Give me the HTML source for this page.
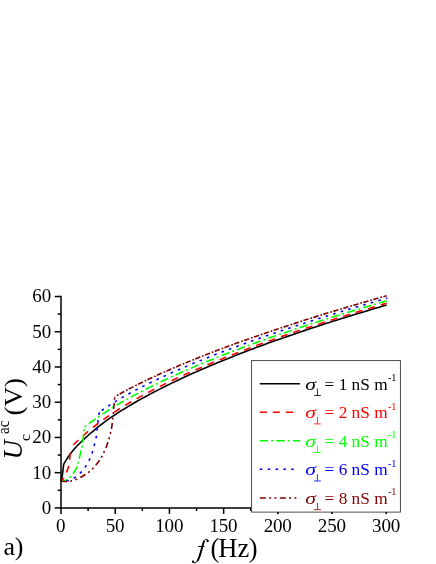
<!DOCTYPE html>
<html><head><meta charset="utf-8"><title>chart</title>
<style>html,body{margin:0;padding:0;background:#fff;}body{width:436px;height:564px;position:relative;overflow:hidden;font-family:"Liberation Serif",serif;}</style>
</head><body>
<svg width="436" height="564" viewBox="0 0 436 564" style="display:block;position:absolute;left:0;top:0;will-change:transform">
<rect x="0" y="0" width="436" height="564" fill="#ffffff"/>
<path d="M61.00 481.20 C61.20 480.33 61.87 477.87 62.20 476.00 C62.53 474.13 62.75 471.95 63.00 470.00 C63.25 468.05 63.58 465.25 63.70 464.30 L63.70 464.30 C64.42 463.10 66.59 459.27 68.04 457.10 C69.49 454.93 70.94 453.07 72.38 451.27 C73.83 449.48 75.28 447.89 76.73 446.33 C78.17 444.78 79.62 443.36 81.07 441.95 C82.52 440.54 83.96 439.21 85.41 437.89 C86.86 436.56 88.30 435.28 89.75 434.01 C91.20 432.74 92.65 431.49 94.09 430.27 C95.54 429.05 96.99 427.85 98.44 426.69 C99.88 425.53 101.33 424.41 102.78 423.32 C104.23 422.23 105.67 421.17 107.12 420.14 C108.57 419.11 110.01 418.11 111.46 417.12 C112.91 416.14 114.36 415.17 115.80 414.22 C117.25 413.27 118.70 412.34 120.15 411.42 C121.59 410.51 123.04 409.61 124.49 408.72 C125.94 407.83 127.38 406.95 128.83 406.09 C130.28 405.22 131.72 404.37 133.17 403.53 C134.62 402.69 136.07 401.86 137.51 401.03 C138.96 400.21 140.41 399.40 141.86 398.60 C143.30 397.79 144.75 397.00 146.20 396.22 C147.65 395.43 149.09 394.66 150.54 393.89 C151.99 393.12 153.43 392.36 154.88 391.60 C156.33 390.85 157.78 390.11 159.22 389.37 C160.67 388.63 162.12 387.90 163.57 387.17 C165.01 386.45 166.46 385.73 167.91 385.02 C169.36 384.31 170.80 383.60 172.25 382.90 C173.70 382.20 175.14 381.51 176.59 380.82 C178.04 380.14 179.49 379.45 180.93 378.78 C182.38 378.10 183.83 377.43 185.28 376.77 C186.72 376.10 188.17 375.44 189.62 374.78 C191.07 374.13 192.51 373.48 193.96 372.83 C195.41 372.19 196.85 371.55 198.30 370.91 C199.75 370.28 201.20 369.64 202.64 369.02 C204.09 368.39 205.54 367.77 206.99 367.15 C208.43 366.53 209.88 365.92 211.33 365.31 C212.78 364.70 214.22 364.09 215.67 363.49 C217.12 362.89 218.56 362.29 220.01 361.69 C221.46 361.10 222.91 360.51 224.35 359.92 C225.80 359.33 227.25 358.75 228.70 358.17 C230.14 357.59 231.59 357.02 233.04 356.44 C234.49 355.87 235.93 355.30 237.38 354.74 C238.83 354.17 240.27 353.61 241.72 353.05 C243.17 352.49 244.62 351.93 246.06 351.38 C247.51 350.83 248.96 350.28 250.41 349.73 C251.85 349.18 253.30 348.64 254.75 348.10 C256.20 347.56 257.64 347.02 259.09 346.48 C260.54 345.95 261.98 345.42 263.43 344.89 C264.88 344.36 266.33 343.83 267.77 343.30 C269.22 342.78 270.67 342.26 272.12 341.74 C273.56 341.22 275.01 340.70 276.46 340.19 C277.91 339.68 279.35 339.17 280.80 338.66 C282.25 338.15 283.69 337.64 285.14 337.14 C286.59 336.63 288.04 336.13 289.48 335.63 C290.93 335.13 292.38 334.64 293.83 334.14 C295.27 333.65 296.72 333.15 298.17 332.66 C299.62 332.17 301.06 331.69 302.51 331.20 C303.96 330.71 305.40 330.23 306.85 329.75 C308.30 329.27 309.75 328.79 311.19 328.31 C312.64 327.83 314.09 327.36 315.54 326.89 C316.98 326.41 318.43 325.94 319.88 325.47 C321.33 325.00 322.77 324.53 324.22 324.07 C325.67 323.60 327.11 323.14 328.56 322.68 C330.01 322.22 331.46 321.76 332.90 321.30 C334.35 320.84 335.80 320.38 337.25 319.93 C338.69 319.47 340.14 319.02 341.59 318.57 C343.04 318.12 344.48 317.67 345.93 317.22 C347.38 316.77 348.82 316.33 350.27 315.88 C351.72 315.44 353.17 315.00 354.61 314.55 C356.06 314.11 357.51 313.67 358.96 313.24 C360.40 312.80 361.85 312.36 363.30 311.93 C364.75 311.49 366.19 311.06 367.64 310.63 C369.09 310.19 370.53 309.76 371.98 309.34 C373.43 308.91 374.88 308.48 376.32 308.05 C377.77 307.63 379.22 307.20 380.67 306.78 C382.11 306.36 384.01 305.80 385.01 305.51 C386.01 305.22 386.38 305.12 386.65 305.04" fill="none" stroke="#000000" stroke-width="1.60" stroke-linejoin="miter"/>
<path d="M61.00 481.20 C61.53 480.60 63.28 479.05 64.20 477.60 C65.12 476.15 65.77 474.38 66.50 472.50 C67.23 470.62 68.10 468.43 68.60 466.30 C69.10 464.17 69.23 461.85 69.50 459.70 C69.77 457.55 69.95 455.42 70.20 453.40 C70.45 451.38 70.87 448.57 71.00 447.61" fill="none" stroke="#ff0000" stroke-width="1.60" stroke-dasharray="7 6.1" stroke-dashoffset="2.70"/>
<path d="M71.00 447.61 C71.72 446.85 73.89 444.51 75.34 443.05 C76.79 441.59 78.24 440.19 79.68 438.83 C81.13 437.47 82.58 436.16 84.03 434.88 C85.47 433.60 86.92 432.36 88.37 431.15 C89.82 429.94 91.26 428.77 92.71 427.62 C94.16 426.47 95.60 425.36 97.05 424.26 C98.50 423.16 99.95 422.09 101.39 421.04 C102.84 419.99 104.29 418.96 105.74 417.95 C107.18 416.95 108.63 415.96 110.08 414.98 C111.53 414.01 112.97 413.06 114.42 412.11 C115.87 411.17 117.31 410.25 118.76 409.34 C120.21 408.43 121.66 407.53 123.10 406.65 C124.55 405.77 126.00 404.90 127.45 404.04 C128.89 403.18 130.34 402.33 131.79 401.50 C133.24 400.66 134.68 399.84 136.13 399.02 C137.58 398.21 139.02 397.40 140.47 396.61 C141.92 395.81 143.37 395.03 144.81 394.25 C146.26 393.47 147.71 392.70 149.16 391.94 C150.60 391.18 152.05 390.43 153.50 389.69 C154.95 388.94 156.39 388.21 157.84 387.48 C159.29 386.75 160.73 386.02 162.18 385.31 C163.63 384.59 165.08 383.89 166.52 383.18 C167.97 382.48 169.42 381.78 170.87 381.09 C172.31 380.40 173.76 379.72 175.21 379.04 C176.66 378.36 178.10 377.69 179.55 377.02 C181.00 376.36 182.44 375.70 183.89 375.04 C185.34 374.38 186.79 373.73 188.23 373.09 C189.68 372.44 191.13 371.80 192.58 371.16 C194.02 370.52 195.47 369.89 196.92 369.27 C198.37 368.64 199.81 368.01 201.26 367.40 C202.71 366.78 204.15 366.16 205.60 365.55 C207.05 364.94 208.50 364.34 209.94 363.73 C211.39 363.13 212.84 362.53 214.29 361.94 C215.73 361.34 217.18 360.75 218.63 360.17 C220.08 359.58 221.52 359.00 222.97 358.42 C224.42 357.84 225.86 357.26 227.31 356.69 C228.76 356.11 230.21 355.54 231.65 354.98 C233.10 354.41 234.55 353.85 236.00 353.29 C237.44 352.73 238.89 352.17 240.34 351.62 C241.79 351.06 243.23 350.51 244.68 349.96 C246.13 349.41 247.57 348.87 249.02 348.33 C250.47 347.78 251.92 347.25 253.36 346.71 C254.81 346.17 256.26 345.64 257.71 345.11 C259.15 344.58 260.60 344.05 262.05 343.52 C263.50 342.99 264.94 342.47 266.39 341.95 C267.84 341.43 269.28 340.91 270.73 340.39 C272.18 339.88 273.63 339.37 275.07 338.85 C276.52 338.34 277.97 337.83 279.42 337.33 C280.86 336.82 282.31 336.32 283.76 335.81 C285.21 335.31 286.65 334.81 288.10 334.31 C289.55 333.82 290.99 333.32 292.44 332.83 C293.89 332.34 295.34 331.84 296.78 331.35 C298.23 330.87 299.68 330.38 301.13 329.89 C302.57 329.41 304.02 328.93 305.47 328.44 C306.92 327.96 308.36 327.48 309.81 327.01 C311.26 326.53 312.70 326.05 314.15 325.58 C315.60 325.11 317.05 324.63 318.49 324.16 C319.94 323.70 321.39 323.23 322.84 322.76 C324.28 322.29 325.73 321.83 327.18 321.37 C328.63 320.90 330.07 320.44 331.52 319.98 C332.97 319.53 334.41 319.07 335.86 318.61 C337.31 318.16 338.76 317.70 340.20 317.25 C341.65 316.80 343.10 316.35 344.55 315.90 C345.99 315.45 347.44 315.00 348.89 314.55 C350.34 314.11 351.78 313.66 353.23 313.22 C354.68 312.77 356.12 312.33 357.57 311.89 C359.02 311.45 360.47 311.01 361.91 310.58 C363.36 310.14 364.81 309.70 366.26 309.27 C367.70 308.83 369.15 308.40 370.60 307.97 C372.05 307.54 373.49 307.11 374.94 306.68 C376.39 306.25 377.83 305.82 379.28 305.40 C380.73 304.97 382.40 304.48 383.62 304.12 C384.85 303.76 386.15 303.39 386.65 303.24" fill="none" stroke="#ff0000" stroke-width="1.60" stroke-dasharray="7 6.1" stroke-dashoffset="9.52"/>
<path d="M61.00 481.20 C61.53 481.13 63.13 481.10 64.20 480.80 C65.27 480.50 66.48 479.98 67.40 479.40 C68.32 478.82 68.78 478.22 69.70 477.30 C70.62 476.38 71.68 475.62 72.90 473.90 C74.12 472.18 76.15 468.83 77.00 467.00 C77.85 465.17 77.62 464.35 78.00 462.90 C78.38 461.45 78.80 460.28 79.30 458.30 C79.80 456.32 80.55 452.97 81.00 451.00 C81.45 449.03 81.70 448.05 82.00 446.50 C82.30 444.95 82.53 443.73 82.80 441.70 C83.07 439.67 83.35 436.70 83.60 434.30 C83.85 431.90 84.18 428.44 84.30 427.27" fill="none" stroke="#00ff00" stroke-width="1.60" stroke-dasharray="8.3 3 2 3.2" stroke-dashoffset="1.80"/>
<path d="M84.30 427.27 C85.02 426.71 87.19 425.01 88.64 423.92 C90.09 422.83 91.54 421.76 92.98 420.71 C94.43 419.67 95.88 418.65 97.33 417.64 C98.77 416.64 100.22 415.66 101.67 414.69 C103.12 413.72 104.56 412.77 106.01 411.84 C107.46 410.90 108.90 409.99 110.35 409.08 C111.80 408.18 113.25 407.29 114.69 406.41 C116.14 405.53 117.59 404.67 119.04 403.82 C120.48 402.96 121.93 402.12 123.38 401.29 C124.83 400.46 126.27 399.64 127.72 398.83 C129.17 398.03 130.61 397.23 132.06 396.44 C133.51 395.65 134.96 394.87 136.40 394.09 C137.85 393.32 139.30 392.56 140.75 391.80 C142.19 391.05 143.64 390.30 145.09 389.56 C146.54 388.82 147.98 388.09 149.43 387.36 C150.88 386.64 152.32 385.92 153.77 385.21 C155.22 384.50 156.67 383.79 158.11 383.09 C159.56 382.40 161.01 381.70 162.46 381.02 C163.90 380.33 165.35 379.65 166.80 378.97 C168.25 378.30 169.69 377.63 171.14 376.97 C172.59 376.30 174.03 375.64 175.48 374.99 C176.93 374.34 178.38 373.69 179.82 373.04 C181.27 372.40 182.72 371.76 184.17 371.13 C185.61 370.49 187.06 369.86 188.51 369.24 C189.96 368.61 191.40 367.99 192.85 367.38 C194.30 366.76 195.74 366.15 197.19 365.54 C198.64 364.93 200.09 364.32 201.53 363.72 C202.98 363.12 204.43 362.53 205.88 361.93 C207.32 361.34 208.77 360.75 210.22 360.17 C211.67 359.58 213.11 359.00 214.56 358.42 C216.01 357.84 217.45 357.27 218.90 356.69 C220.35 356.12 221.80 355.55 223.24 354.99 C224.69 354.42 226.14 353.86 227.59 353.30 C229.03 352.74 230.48 352.19 231.93 351.63 C233.38 351.08 234.82 350.53 236.27 349.98 C237.72 349.44 239.16 348.89 240.61 348.35 C242.06 347.81 243.51 347.27 244.95 346.73 C246.40 346.20 247.85 345.66 249.30 345.13 C250.74 344.60 252.19 344.07 253.64 343.55 C255.09 343.02 256.53 342.50 257.98 341.98 C259.43 341.46 260.87 340.94 262.32 340.43 C263.77 339.91 265.22 339.40 266.66 338.89 C268.11 338.38 269.56 337.87 271.01 337.36 C272.45 336.86 273.90 336.35 275.35 335.85 C276.80 335.35 278.24 334.85 279.69 334.35 C281.14 333.85 282.58 333.36 284.03 332.87 C285.48 332.37 286.93 331.88 288.37 331.39 C289.82 330.90 291.27 330.42 292.72 329.93 C294.16 329.45 295.61 328.96 297.06 328.48 C298.51 328.00 299.95 327.52 301.40 327.05 C302.85 326.57 304.29 326.09 305.74 325.62 C307.19 325.15 308.64 324.67 310.08 324.21 C311.53 323.74 312.98 323.27 314.43 322.80 C315.87 322.34 317.32 321.87 318.77 321.41 C320.22 320.95 321.66 320.48 323.11 320.03 C324.56 319.57 326.00 319.11 327.45 318.65 C328.90 318.20 330.35 317.74 331.79 317.29 C333.24 316.84 334.69 316.39 336.14 315.94 C337.58 315.49 339.03 315.04 340.48 314.59 C341.93 314.15 343.37 313.70 344.82 313.26 C346.27 312.82 347.71 312.37 349.16 311.93 C350.61 311.49 352.06 311.06 353.50 310.62 C354.95 310.18 356.40 309.75 357.85 309.31 C359.29 308.88 360.74 308.44 362.19 308.01 C363.64 307.58 365.08 307.15 366.53 306.72 C367.98 306.29 369.42 305.87 370.87 305.44 C372.32 305.01 373.77 304.59 375.21 304.17 C376.66 303.74 378.11 303.32 379.56 302.90 C381.00 302.48 382.72 301.98 383.90 301.64 C385.08 301.30 386.19 300.98 386.65 300.85" fill="none" stroke="#00ff00" stroke-width="1.60" stroke-dasharray="8.3 3.05 2 3.26" stroke-dashoffset="10.80"/>
<path d="M61.00 481.20 C62.30 481.10 66.52 481.20 68.80 480.60 C71.08 480.00 72.75 478.90 74.70 477.60 C76.65 476.30 78.77 474.52 80.50 472.80 C82.23 471.08 83.70 469.30 85.10 467.30 C86.50 465.30 87.77 463.07 88.90 460.80 C90.03 458.53 91.03 456.18 91.90 453.70 C92.77 451.22 93.40 448.52 94.10 445.90 C94.80 443.28 95.62 440.62 96.10 438.00 C96.58 435.38 96.70 432.80 97.00 430.20 C97.30 427.60 97.58 425.00 97.90 422.40 C98.22 419.80 98.63 416.33 98.90 414.60 C99.17 412.87 99.40 412.45 99.50 412.02" fill="none" stroke="#0000ff" stroke-width="1.60" stroke-dasharray="2.6 5.25" stroke-dashoffset="2.50"/>
<path d="M99.50 412.02 C100.22 411.51 102.39 409.97 103.84 408.98 C105.29 407.99 106.74 407.03 108.18 406.09 C109.63 405.15 111.08 404.23 112.53 403.32 C113.97 402.42 115.42 401.54 116.87 400.66 C118.32 399.79 119.76 398.94 121.21 398.10 C122.66 397.26 124.10 396.43 125.55 395.62 C127.00 394.80 128.45 394.00 129.89 393.21 C131.34 392.42 132.79 391.64 134.24 390.87 C135.68 390.10 137.13 389.35 138.58 388.60 C140.03 387.85 141.47 387.11 142.92 386.37 C144.37 385.64 145.81 384.92 147.26 384.20 C148.71 383.48 150.16 382.78 151.60 382.07 C153.05 381.37 154.50 380.68 155.95 379.99 C157.39 379.30 158.84 378.62 160.29 377.95 C161.74 377.27 163.18 376.60 164.63 375.94 C166.08 375.27 167.52 374.62 168.97 373.97 C170.42 373.31 171.87 372.67 173.31 372.02 C174.76 371.38 176.21 370.75 177.66 370.11 C179.10 369.48 180.55 368.86 182.00 368.23 C183.45 367.61 184.89 366.99 186.34 366.38 C187.79 365.76 189.23 365.15 190.68 364.55 C192.13 363.94 193.58 363.34 195.02 362.75 C196.47 362.15 197.92 361.55 199.37 360.97 C200.81 360.38 202.26 359.79 203.71 359.21 C205.16 358.62 206.60 358.05 208.05 357.47 C209.50 356.90 210.94 356.32 212.39 355.75 C213.84 355.19 215.29 354.62 216.73 354.06 C218.18 353.50 219.63 352.94 221.08 352.38 C222.52 351.83 223.97 351.27 225.42 350.72 C226.87 350.17 228.31 349.63 229.76 349.08 C231.21 348.54 232.65 348.00 234.10 347.46 C235.55 346.92 237.00 346.38 238.44 345.85 C239.89 345.32 241.34 344.79 242.79 344.26 C244.23 343.73 245.68 343.21 247.13 342.68 C248.58 342.16 250.02 341.64 251.47 341.12 C252.92 340.61 254.36 340.09 255.81 339.58 C257.26 339.07 258.71 338.55 260.15 338.05 C261.60 337.54 263.05 337.03 264.50 336.53 C265.94 336.03 267.39 335.52 268.84 335.02 C270.29 334.53 271.73 334.03 273.18 333.53 C274.63 333.04 276.07 332.55 277.52 332.05 C278.97 331.56 280.42 331.08 281.86 330.59 C283.31 330.10 284.76 329.62 286.21 329.13 C287.65 328.65 289.10 328.17 290.55 327.69 C292.00 327.21 293.44 326.74 294.89 326.26 C296.34 325.79 297.78 325.31 299.23 324.84 C300.68 324.37 302.13 323.90 303.57 323.43 C305.02 322.97 306.47 322.50 307.92 322.04 C309.36 321.57 310.81 321.11 312.26 320.65 C313.71 320.19 315.15 319.73 316.60 319.27 C318.05 318.81 319.49 318.36 320.94 317.90 C322.39 317.45 323.84 317.00 325.28 316.55 C326.73 316.10 328.18 315.65 329.63 315.20 C331.07 314.75 332.52 314.31 333.97 313.86 C335.42 313.42 336.86 312.97 338.31 312.53 C339.76 312.09 341.20 311.65 342.65 311.21 C344.10 310.77 345.55 310.34 346.99 309.90 C348.44 309.46 349.89 309.03 351.34 308.60 C352.78 308.16 354.23 307.73 355.68 307.30 C357.13 306.87 358.57 306.44 360.02 306.02 C361.47 305.59 362.91 305.16 364.36 304.74 C365.81 304.32 367.26 303.89 368.70 303.47 C370.15 303.05 371.60 302.63 373.05 302.21 C374.49 301.79 375.94 301.37 377.39 300.95 C378.84 300.54 380.28 300.12 381.73 299.71 C383.18 299.29 385.25 298.70 386.07 298.47 C386.89 298.23 386.55 298.33 386.65 298.30" fill="none" stroke="#0000ff" stroke-width="1.60" stroke-dasharray="2.6 5.26" stroke-dashoffset="5.24"/>
<path d="M61.00 481.20 C62.13 481.25 66.02 481.57 67.80 481.50 C69.58 481.43 70.32 481.15 71.70 480.80 C73.08 480.45 74.68 479.93 76.10 479.40 C77.52 478.87 78.75 478.37 80.20 477.60 C81.65 476.83 83.35 475.72 84.80 474.80 C86.25 473.88 87.63 473.07 88.90 472.10 C90.17 471.13 90.97 470.52 92.40 469.00 C93.83 467.48 95.97 465.02 97.50 463.00 C99.03 460.98 100.52 458.72 101.60 456.90 C102.68 455.08 103.23 453.72 104.00 452.10 C104.77 450.48 105.53 448.87 106.20 447.20 C106.87 445.53 107.47 443.72 108.00 442.10 C108.53 440.48 108.97 439.10 109.40 437.50 C109.83 435.90 110.22 434.18 110.60 432.50 C110.98 430.82 111.30 429.93 111.70 427.40 C112.10 424.87 112.68 420.20 113.00 417.30 C113.32 414.40 113.40 412.40 113.60 410.00 C113.80 407.60 114.02 405.08 114.20 402.90 C114.38 400.72 114.62 397.89 114.70 396.89" fill="none" stroke="#800000" stroke-width="1.60" stroke-dasharray="6 3.2 2 3.4 2 3.4" stroke-dashoffset="0.00"/>
<path d="M114.70 396.89 C115.42 396.47 117.59 395.20 119.04 394.38 C120.49 393.56 121.94 392.75 123.38 391.96 C124.83 391.17 126.28 390.39 127.73 389.62 C129.17 388.85 130.62 388.09 132.07 387.34 C133.52 386.60 134.96 385.86 136.41 385.13 C137.86 384.40 139.30 383.68 140.75 382.97 C142.20 382.26 143.65 381.56 145.09 380.86 C146.54 380.17 147.99 379.48 149.44 378.80 C150.88 378.11 152.33 377.44 153.78 376.77 C155.23 376.10 156.67 375.44 158.12 374.78 C159.57 374.12 161.01 373.47 162.46 372.83 C163.91 372.18 165.36 371.54 166.80 370.90 C168.25 370.27 169.70 369.64 171.15 369.01 C172.59 368.38 174.04 367.76 175.49 367.15 C176.94 366.53 178.38 365.92 179.83 365.31 C181.28 364.70 182.72 364.10 184.17 363.50 C185.62 362.90 187.07 362.30 188.51 361.71 C189.96 361.12 191.41 360.53 192.86 359.94 C194.30 359.36 195.75 358.78 197.20 358.20 C198.65 357.62 200.09 357.05 201.54 356.47 C202.99 355.90 204.43 355.34 205.88 354.77 C207.33 354.21 208.78 353.65 210.22 353.09 C211.67 352.53 213.12 351.97 214.57 351.42 C216.01 350.87 217.46 350.32 218.91 349.77 C220.36 349.23 221.80 348.69 223.25 348.14 C224.70 347.60 226.14 347.07 227.59 346.53 C229.04 346.00 230.49 345.46 231.93 344.93 C233.38 344.40 234.83 343.88 236.28 343.35 C237.72 342.83 239.17 342.31 240.62 341.79 C242.07 341.27 243.51 340.75 244.96 340.23 C246.41 339.72 247.85 339.21 249.30 338.70 C250.75 338.19 252.20 337.68 253.64 337.17 C255.09 336.67 256.54 336.17 257.99 335.66 C259.43 335.16 260.88 334.66 262.33 334.17 C263.78 333.67 265.22 333.18 266.67 332.68 C268.12 332.19 269.56 331.70 271.01 331.21 C272.46 330.72 273.91 330.24 275.35 329.75 C276.80 329.27 278.25 328.79 279.70 328.31 C281.14 327.83 282.59 327.35 284.04 326.87 C285.49 326.40 286.93 325.92 288.38 325.45 C289.83 324.97 291.27 324.50 292.72 324.03 C294.17 323.57 295.62 323.10 297.06 322.63 C298.51 322.17 299.96 321.70 301.41 321.24 C302.85 320.78 304.30 320.32 305.75 319.86 C307.20 319.40 308.64 318.94 310.09 318.49 C311.54 318.03 312.98 317.58 314.43 317.13 C315.88 316.67 317.33 316.22 318.77 315.77 C320.22 315.33 321.67 314.88 323.12 314.43 C324.56 313.99 326.01 313.54 327.46 313.10 C328.91 312.66 330.35 312.22 331.80 311.78 C333.25 311.34 334.69 310.90 336.14 310.46 C337.59 310.02 339.04 309.59 340.48 309.15 C341.93 308.72 343.38 308.29 344.83 307.86 C346.27 307.42 347.72 307.00 349.17 306.57 C350.62 306.14 352.06 305.71 353.51 305.29 C354.96 304.86 356.40 304.44 357.85 304.01 C359.30 303.59 360.75 303.17 362.19 302.75 C363.64 302.33 365.09 301.91 366.54 301.49 C367.98 301.07 369.43 300.66 370.88 300.24 C372.33 299.82 373.77 299.41 375.22 299.00 C376.67 298.58 378.11 298.17 379.56 297.76 C381.01 297.35 382.72 296.87 383.90 296.54 C385.09 296.20 386.19 295.89 386.65 295.76" fill="none" stroke="#800000" stroke-width="1.60" stroke-dasharray="5.3 2.0 1.7 1.43" stroke-dashoffset="4.69"/>
<g stroke="#000" stroke-width="1.50" fill="none">
<path d="M61.00 295.77 V507.90 H387.04"/>
<path d="M61.00 507.90 v6.00"/>
<path d="M88.11 507.90 v3.00"/>
<path d="M115.22 507.90 v6.00"/>
<path d="M142.32 507.90 v3.00"/>
<path d="M169.43 507.90 v6.00"/>
<path d="M196.54 507.90 v3.00"/>
<path d="M223.65 507.90 v6.00"/>
<path d="M250.75 507.90 v3.00"/>
<path d="M277.86 507.90 v6.00"/>
<path d="M304.97 507.90 v3.00"/>
<path d="M332.07 507.90 v6.00"/>
<path d="M359.18 507.90 v3.00"/>
<path d="M386.29 507.90 v6.00"/>
<path d="M61.00 507.90 h-6.30"/>
<path d="M61.00 490.28 h-3.30"/>
<path d="M61.00 472.67 h-6.30"/>
<path d="M61.00 455.05 h-3.30"/>
<path d="M61.00 437.44 h-6.30"/>
<path d="M61.00 419.82 h-3.30"/>
<path d="M61.00 402.21 h-6.30"/>
<path d="M61.00 384.59 h-3.30"/>
<path d="M61.00 366.98 h-6.30"/>
<path d="M61.00 349.37 h-3.30"/>
<path d="M61.00 331.75 h-6.30"/>
<path d="M61.00 314.13 h-3.30"/>
<path d="M61.00 296.52 h-6.30"/>
</g>
<g font-family="'Liberation Serif', serif" font-size="19" fill="#000" letter-spacing="-0.15">
<text x="60.80" y="531.7" text-anchor="middle">0</text>
<text x="115.02" y="531.7" text-anchor="middle">50</text>
<text x="169.23" y="531.7" text-anchor="middle">100</text>
<text x="223.45" y="531.7" text-anchor="middle">150</text>
<text x="277.66" y="531.7" text-anchor="middle">200</text>
<text x="331.88" y="531.7" text-anchor="middle">250</text>
<text x="386.09" y="531.7" text-anchor="middle">300</text>
<text x="51.0" y="513.80" text-anchor="end">0</text>
<text x="51.0" y="478.57" text-anchor="end">10</text>
<text x="51.0" y="443.34" text-anchor="end">20</text>
<text x="51.0" y="408.11" text-anchor="end">30</text>
<text x="51.0" y="372.88" text-anchor="end">40</text>
<text x="51.0" y="337.65" text-anchor="end">50</text>
<text x="51.0" y="302.42" text-anchor="end">60</text>
</g>
<g font-family="'Liberation Serif', serif" fill="#000">
<text x="3.5 14.8" y="555.4" font-size="26">a)</text>
<path d="M207.96 541.23 C207.90 541.00 207.90 540.18 207.61 539.85 C207.33 539.52 206.70 539.23 206.24 539.23 C205.78 539.23 205.26 539.46 204.86 539.85 C204.46 540.24 204.17 540.71 203.83 541.57 C203.49 542.43 203.14 543.81 202.80 545.01 C202.45 546.22 202.17 547.36 201.76 548.80 C201.36 550.23 200.85 552.12 200.39 553.61 C199.93 555.11 199.47 556.60 199.01 557.74 C198.55 558.89 198.15 559.73 197.64 560.50 C197.12 561.27 196.49 561.98 195.91 562.36 C195.34 562.73 194.73 562.85 194.19 562.77 C193.65 562.69 192.93 562.02 192.68 561.87" fill="none" stroke="#000" stroke-width="1.0" stroke-linecap="round"/>
<path d="M203.83 541.57 C203.66 542.14 203.14 543.81 202.80 545.01 C202.45 546.22 202.17 547.36 201.76 548.80 C201.36 550.23 200.85 552.12 200.39 553.61 C199.93 555.11 199.47 556.60 199.01 557.74 C198.55 558.89 197.86 560.04 197.64 560.50" fill="none" stroke="#000" stroke-width="1.9" stroke-linecap="round"/>
<circle cx="207.55" cy="541.02" r="1.15" fill="#000"/>
<circle cx="192.96" cy="561.67" r="1.15" fill="#000"/>
<path d="M197.98 546.53 H204.52" stroke="#000" stroke-width="0.95" fill="none"/>
<text x="210.5 218.3 237.5 248.8" y="557.2" font-size="26.5">(Hz)</text>
<text transform="translate(21.6 459.4) rotate(-90)" font-size="27" font-style="italic">U</text>
<text transform="translate(8.5 433.9) rotate(-90) scale(1 1.08)" font-size="15">ac</text>
<text transform="translate(30.2 440.9) rotate(-90)" font-size="15.5">c</text>
<text transform="translate(21.9 415.6) rotate(-90) scale(1 0.95)" font-size="27">(V)</text>
</g>
<rect x="251.60" y="360.60" width="148.80" height="151.50" fill="#fff" stroke="#3a3a3a" stroke-width="0.9"/>
<g stroke="#000" stroke-width="1.50" fill="none">
<path d="M277.86 512.60 V513.90"/>
<path d="M332.07 512.60 V513.90"/>
<path d="M386.29 512.60 V513.90"/>
</g>
<path d="M259.8 383.80 H299.9" fill="none" stroke="#000000" stroke-width="1.60"/>
<g font-family="'Liberation Serif', serif" fill="#000000" stroke="none">
<text transform="translate(305.2 389.60) scale(1.25 0.93)" font-size="17.3" font-style="italic">σ</text>
<path d="M314.0 395.50 H320.9 M317.45 395.50 V388.60" stroke="#000000" stroke-width="0.8" fill="none"/>
<text x="324.6" y="389.60" font-size="17.3">= 1 nS m</text>
<text x="388.0 391.3" y="381.20" font-size="10.3">-1</text>
</g>
<path d="M259.8 412.20 H298.8" fill="none" stroke="#ff0000" stroke-width="1.60" stroke-dasharray="7 6.1"/>
<g font-family="'Liberation Serif', serif" fill="#ff0000" stroke="none">
<text transform="translate(305.2 418.00) scale(1.25 0.93)" font-size="17.3" font-style="italic">σ</text>
<path d="M314.0 423.90 H320.9 M317.45 423.90 V417.00" stroke="#ff0000" stroke-width="0.8" fill="none"/>
<text x="324.6" y="418.00" font-size="17.3">= 2 nS m</text>
<text x="388.0 391.3" y="409.60" font-size="10.3">-1</text>
</g>
<path d="M259.8 440.80 H300.2" fill="none" stroke="#00ff00" stroke-width="1.60" stroke-dasharray="8.3 3 2 3.2"/>
<g font-family="'Liberation Serif', serif" fill="#00ff00" stroke="none">
<text transform="translate(305.2 446.60) scale(1.25 0.93)" font-size="17.3" font-style="italic">σ</text>
<path d="M314.0 452.50 H320.9 M317.45 452.50 V445.60" stroke="#00ff00" stroke-width="0.8" fill="none"/>
<text x="324.6" y="446.60" font-size="17.3">= 4 nS m</text>
<text x="388.0 391.3" y="438.20" font-size="10.3">-1</text>
</g>
<path d="M259.8 469.30 H298.8" fill="none" stroke="#0000ff" stroke-width="1.60" stroke-dasharray="2.6 5.25"/>
<g font-family="'Liberation Serif', serif" fill="#0000ff" stroke="none">
<text transform="translate(305.2 475.10) scale(1.25 0.93)" font-size="17.3" font-style="italic">σ</text>
<path d="M314.0 481.00 H320.9 M317.45 481.00 V474.10" stroke="#0000ff" stroke-width="0.8" fill="none"/>
<text x="324.6" y="475.10" font-size="17.3">= 6 nS m</text>
<text x="388.0 391.3" y="466.70" font-size="10.3">-1</text>
</g>
<path d="M259.8 498.00 H298.8" fill="none" stroke="#800000" stroke-width="1.60" stroke-dasharray="6 3.2 2 3.4 2 3.4"/>
<g font-family="'Liberation Serif', serif" fill="#800000" stroke="none">
<text transform="translate(305.2 503.80) scale(1.25 0.93)" font-size="17.3" font-style="italic">σ</text>
<path d="M314.0 509.70 H320.9 M317.45 509.70 V502.80" stroke="#800000" stroke-width="0.8" fill="none"/>
<text x="324.6" y="503.80" font-size="17.3">= 8 nS m</text>
<text x="388.0 391.3" y="495.40" font-size="10.3">-1</text>
</g>
</svg>
</body></html>
